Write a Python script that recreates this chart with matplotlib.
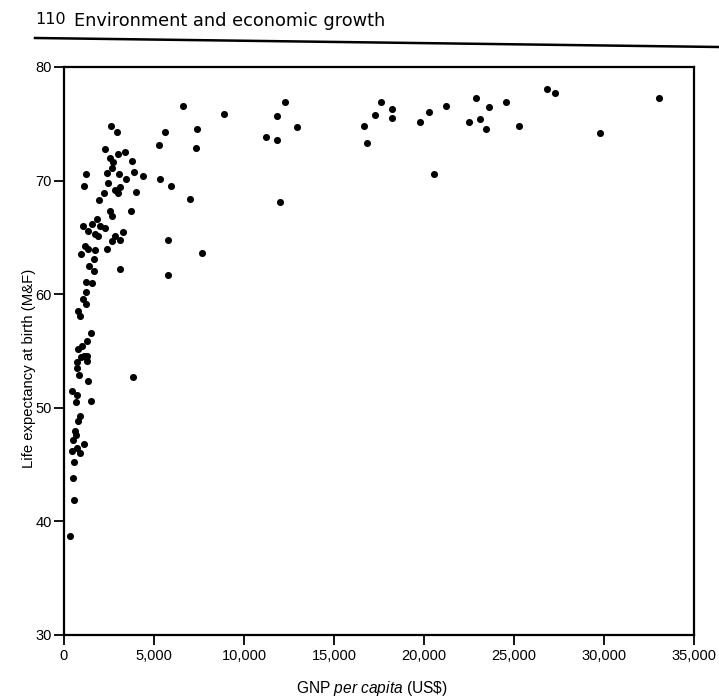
import matplotlib
matplotlib.use("Agg")
import matplotlib.pyplot as plt
from matplotlib.ticker import FuncFormatter

plt.rcParams['font.family'] = ['Liberation Sans', 'DejaVu Sans']
plt.rcParams['mathtext.fontset'] = 'custom'
plt.rcParams['mathtext.rm'] = 'Liberation Sans'
plt.rcParams['mathtext.it'] = 'Liberation Sans:italic'

# GNP per capita (US$)
gnp = [2598, 2932, 2281, 3021, 3394, 2559, 2743, 3800, 2687, 2376, 3077, 3895, 1224, 3450,
       1129, 2431, 2838, 3116, 3021, 2242, 4006, 1947, 2559, 2687, 3728, 1819, 1040, 1541,
       2003, 2281, 1352, 1725, 3266, 1908, 2838, 2654, 3116, 1168, 1352, 946, 1725, 2376, 1686,
       1391, 1669, 3116, 1207, 1575, 1224, 1074, 1207, 762, 890, 1486, 1263, 796, 985, 1129,
       946, 1263, 707, 1296, 707, 851, 1352, 3856, 462, 707, 1502,
       651, 890, 796, 612, 651, 1113, 517, 707, 890, 428, 573, 517, 556, 334,
       6638, 8863, 12257, 11835, 12947, 11223, 11851, 5603, 7383, 5269, 7361, 4379, 5341,
       5953, 7011, 12018, 5787, 7678, 5803,
       17621, 17304, 18233, 18233, 16653, 16842, 19752, 20270, 21199, 20531, 22868, 23630,
       24576, 22495, 23107, 23441, 25299, 26818, 27300, 29767, 33033]

# Life expectancy at birth (years)
life = [74.8, 74.3, 72.8, 72.3, 72.5, 72.0, 71.6, 71.7, 71.1, 70.7, 70.6, 70.8, 70.6, 70.1,
        69.5, 69.8, 69.2, 69.4, 68.9, 68.9, 69.0, 68.3, 67.3, 66.9, 67.3, 66.6, 66.0, 66.2,
        66.0, 65.8, 65.6, 65.3, 65.5, 65.1, 65.1, 64.7, 64.8, 64.2, 64.0, 63.5, 63.9, 64.0, 63.1,
        62.5, 62.0, 62.2, 61.1, 61.0, 60.2, 59.6, 59.1, 58.5, 58.1, 56.6, 55.9, 55.2, 55.4, 54.6,
        54.5, 54.6, 54.0, 54.1, 53.5, 52.9, 52.4, 52.7, 51.5, 51.1, 50.6,
        50.5, 49.3, 48.8, 48.0, 47.6, 46.8, 47.2, 46.5, 46.0, 46.2, 45.2, 43.8, 41.9, 38.7,
        76.6, 75.9, 76.9, 75.7, 74.7, 73.8, 73.6, 74.3, 74.5, 73.1, 72.9, 70.4, 70.1,
        69.5, 68.4, 68.1, 64.8, 63.6, 61.7,
        76.9, 75.8, 76.3, 75.5, 74.8, 73.3, 75.2, 76.0, 76.6, 70.6, 77.3, 76.5,
        76.9, 75.2, 75.4, 74.5, 74.8, 78.1, 77.7, 74.2, 77.3]

x_ticks = [0, 5000, 10000, 15000, 20000, 25000, 30000, 35000]
y_ticks = [30, 40, 50, 60, 70, 80]

fig = plt.figure(figsize=(7.19, 7.0), dpi=100)
ax = fig.add_axes([64/719, 1 - 635/700, 630/719, (635 - 67)/700])

ax.scatter(gnp, life, s=26, color='black', linewidths=0, zorder=3)

ax.set_xlim(0, 35000)
ax.set_ylim(30, 80)
ax.set_xticks(x_ticks)
ax.set_yticks(y_ticks)
ax.xaxis.set_major_formatter(FuncFormatter(lambda v, p: f"{int(v):,}"))
ax.tick_params(axis='both', direction='out', length=7, width=1.3, labelsize=10.5, colors='black')
ax.tick_params(axis='x', pad=3)
ax.tick_params(axis='y', pad=2)
for s in ax.spines.values():
    s.set_linewidth(1.6)
    s.set_color('black')

ax.set_xlabel("GNP $\\it{per\\ capita}$ (US\\$)", fontsize=11.2)
ax.xaxis.set_label_coords((372 - 64) / 630, (635 - 679) / 568)
ax.set_ylabel("Life expectancy at birth (M&F)", fontsize=10.7)
ax.yaxis.set_label_coords((36 - 64) / 630, (635 - 368) / 568)

# page header
fig.text(35/719, 1 - 20/700, "110", fontsize=11.5, va='center', ha='left',
         family=['DejaVu Sans'])
fig.text(74/719, 1 - 21/700, "Environment and economic growth", fontsize=12.8,
         va='center', ha='left', family=['DejaVu Sans'])
fig.add_artist(plt.Line2D([35/719, 1.0], [1 - 38/700, 1 - 47/700], color='black', lw=1.8,
                          transform=fig.transFigure))

fig.savefig("out.png", dpi=100)
